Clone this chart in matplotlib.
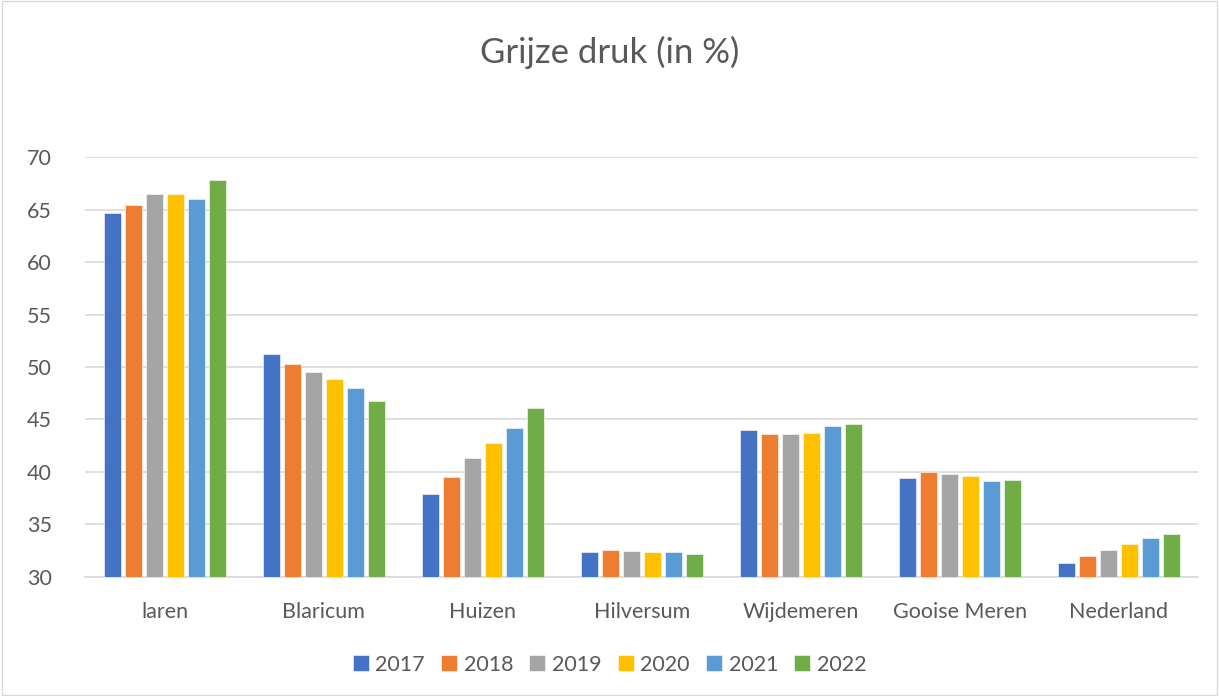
import numpy as np
import matplotlib.pyplot as plt
from matplotlib.patches import Rectangle

plt.rcParams['font.family'] = ['Lato', 'DejaVu Sans']

categories = ['laren', 'Blaricum', 'Huizen', 'Hilversum', 'Wijdemeren', 'Gooise Meren', 'Nederland']
years = ['2017', '2018', '2019', '2020', '2021', '2022']
values = {
    '2017': [64.7, 51.2, 37.9, 32.4, 44.0, 39.4, 31.3],
    '2018': [65.4, 50.3, 39.5, 32.6, 43.6, 40.0, 32.0],
    '2019': [66.5, 49.5, 41.3, 32.5, 43.6, 39.8, 32.6],
    '2020': [66.5, 48.9, 42.8, 32.4, 43.7, 39.6, 33.1],
    '2021': [66.0, 48.0, 44.2, 32.4, 44.4, 39.1, 33.7],
    '2022': [67.8, 46.8, 46.1, 32.2, 44.6, 39.2, 34.1],
}
colors = ['#4472C4', '#ED7D31', '#A5A5A5', '#FFC000', '#5B9BD5', '#70AD47']

fig = plt.figure(figsize=(12.19, 6.96), dpi=100)
ax = fig.add_axes([0.07, 0.171, 0.913, 0.6034])

x = np.arange(len(categories))
slot = 0.132
width = 0.107
for i, (yr, c) in enumerate(zip(years, colors)):
    offs = (i - 2.5) * slot
    base = 30
    ax.bar(x + offs, np.array(values[yr]) - base, width, bottom=base, color=c,
           edgecolor='white', linewidth=0.4, label=yr, zorder=3)

ax.set_ylim(30, 70)
ax.set_xlim(-0.5, len(categories) - 0.5)
ax.set_yticks(range(30, 71, 5))
ax.set_xticks(x)
ax.set_xticklabels(categories)
ax.grid(axis='y', color='#d9d9d9', linewidth=1.2, zorder=0)
for s in ['left', 'right', 'top']:
    ax.spines[s].set_visible(False)
ax.spines['bottom'].set_color('#d9d9d9')
ax.spines['bottom'].set_linewidth(1.2)
ax.tick_params(axis='both', length=0, colors='#595959', labelsize=15.5)
ax.tick_params(axis='x', pad=18)
ax.tick_params(axis='y', pad=24)

fig.text(0.5, 0.925, 'Grijze druk (in %)', ha='center', va='center', fontsize=25, color='#595959')

fig.legend(loc='center', bbox_to_anchor=(0.5, 0.045), ncol=6, frameon=False,
           fontsize=15.5, handlelength=0.75, handleheight=0.75, handletextpad=0.3,
           columnspacing=0.75, labelcolor='#595959')

fig.patches.append(Rectangle((0.002, 0.002), 0.996, 0.996, transform=fig.transFigure,
                             fill=False, edgecolor='#d9d9d9', linewidth=1))

fig.savefig('out.png', dpi=100)
